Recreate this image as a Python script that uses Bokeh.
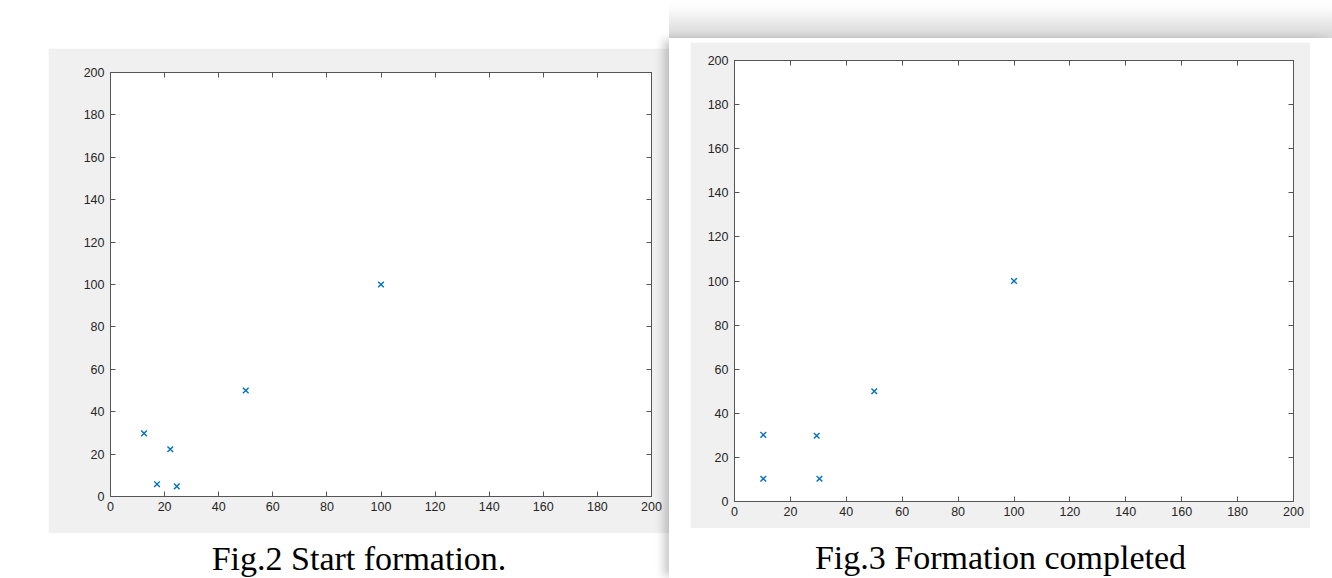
from bokeh.plotting import figure
from bokeh.models import Range1d, FixedTicker, LinearAxis, Label, Spacer, Div
from bokeh.layouts import row, column
from bokeh.embed import file_html
from bokeh.resources import INLINE

# ---- data ----
tick_values = [0, 20, 40, 60, 80, 100, 120, 140, 160, 180, 200]

start_x = [12.4, 17.2, 22.1, 24.5, 50, 100]
start_y = [29.8, 5.8, 22.3, 4.8, 50, 100]

done_x = [10.3, 29.4, 10.3, 30.4, 50, 100]
done_y = [30.2, 29.8, 10.3, 10.3, 50, 100]

caption_left = "Fig.2 Start formation."
caption_right = "Fig.3 Formation completed"

# ---- style ----
PANEL = "#f0f0f0"
AXLINE = "#555555"
LABEL = "#262626"
MARK = "#0072BD"


def make_panel(xs, ys, width, height, ml, mr, mt, mb):
    p = figure(width=width, height=height,
               x_range=Range1d(0, 200), y_range=Range1d(0, 200),
               output_backend="svg", toolbar_location=None,
               x_axis_location=None, y_axis_location=None,
               min_border=0, min_border_left=ml, min_border_right=mr,
               min_border_top=mt, min_border_bottom=mb)
    p.border_fill_color = PANEL
    p.background_fill_color = "white"
    p.outline_line_color = AXLINE
    p.outline_line_width = 1
    p.grid.visible = False
    for loc in ["below", "left", "above", "right"]:
        ax = LinearAxis(ticker=FixedTicker(ticks=tick_values))
        ax.axis_line_color = AXLINE
        ax.major_tick_line_color = AXLINE
        ax.major_tick_in = 5
        ax.major_tick_out = 0
        ax.minor_tick_line_color = None
        ax.major_label_text_font = "Liberation Sans"
        if loc in ("below", "left"):
            ax.major_label_text_color = LABEL
            ax.major_label_text_font_size = "12.5px"
            ax.major_label_standoff = 5 if loc == "below" else 6
        else:
            # mirrored box ticks only, as in a MATLAB axes box
            ax.major_label_text_color = None
            ax.major_label_text_font_size = "1px"
            ax.major_label_standoff = 0
        p.add_layout(ax, loc)
    p.scatter(xs, ys, marker="x", size=8, line_color=MARK, line_width=1.4)
    return p


def make_caption(text, width, height, cx, by):
    c = figure(width=width, height=height, output_backend="svg",
               toolbar_location=None, x_range=Range1d(0, 1), y_range=Range1d(0, 1),
               min_border=0, x_axis_location=None, y_axis_location=None)
    c.grid.visible = False
    c.outline_line_color = None
    c.border_fill_color = "white"
    c.background_fill_color = "white"
    c.add_layout(Label(x=cx, y=by, x_units="screen", y_units="screen", text=text,
                       text_align="center", text_baseline="alphabetic",
                       text_font="Liberation Serif", text_font_size="34px",
                       text_color="black"))
    return c


# left sheet: x 0-669
figL = make_panel(start_x, start_y, 621, 485, 62, 18, 24, 37)
capL = make_caption(caption_left, 669, 45, 358.5, 20)
left = column(Spacer(width=669, height=48),
              row(Spacer(width=48, height=485), figL),
              capL)

# right sheet: x 669-1332
figR = make_panel(done_x, done_y, 620, 486, 44, 17, 18, 27)
capR = make_caption(caption_right, 663, 50, 331, 21)
top_shadow = Div(text="", width=663, height=38, margin=0,
                 styles={"background": "linear-gradient(to bottom, #ffffff 0%, #fafafa 25%, #d6d6d6 100%)"})
page = column(Spacer(width=663, height=4),
              row(Spacer(width=21, height=486), figR, Spacer(width=22, height=486)),
              capR,
              styles={"background-color": "white",
                      "box-shadow": "-7px 0px 9px -2px rgba(0,0,0,0.22)"})
right = column(top_shadow, page)

root = row(left, right)

open("out.html", "w").write(file_html(root, INLINE))
